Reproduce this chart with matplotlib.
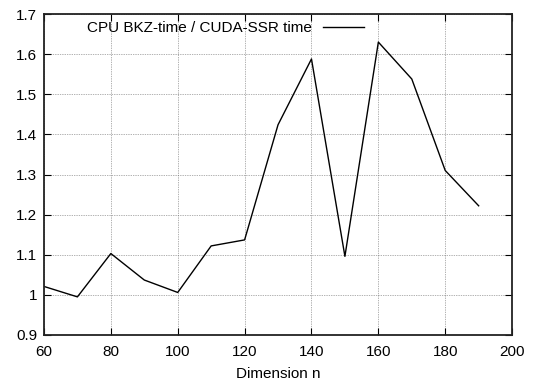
import matplotlib
matplotlib.use("Agg")
import matplotlib.pyplot as plt

plt.rcParams['font.family'] = ['Liberation Sans', 'DejaVu Sans']

dims = [60, 70, 80, 90, 100, 110, 120, 130, 140, 150, 160, 170, 180, 190]
ratio = [1.021, 0.995, 1.103, 1.037, 1.006, 1.122, 1.137, 1.424, 1.588,
         1.096, 1.630, 1.538, 1.310, 1.222]
xticks = [60, 80, 100, 120, 140, 160, 180, 200]
yticks = [0.9, 1.0, 1.1, 1.2, 1.3, 1.4, 1.5, 1.6, 1.7]

fig = plt.figure(figsize=(5.35, 3.85), dpi=100)
ax = fig.add_axes([0.0822, 0.1299, 0.875, 0.8337])

ax.plot(dims, ratio, color='black', lw=1.0, label='CPU BKZ-time / CUDA-SSR time')

ax.set_xlim(60, 200)
ax.set_ylim(0.9, 1.7)
ax.set_xticks(xticks)
ax.set_yticks(yticks)
ax.yaxis.set_major_formatter(plt.FuncFormatter(lambda v, p: '%g' % round(v, 2)))
ax.tick_params(direction='in', top=True, right=True, labelsize=11, length=5, width=0.8)
ax.tick_params(axis='x', pad=7)
ax.tick_params(axis='y', pad=5)
ax.grid(True, color='#666666', linestyle=(0, (1, 1.5)), lw=0.5)
for s in ax.spines.values():
    s.set_linewidth(1.3)
    s.set_color('#222222')

ax.set_xlabel('Dimension n', fontsize=11, labelpad=6)

ax.legend(loc='center right', bbox_to_anchor=(0.684, 0.956), frameon=False,
          markerfirst=False, fontsize=11, borderpad=0, borderaxespad=0,
          handlelength=2.7, handletextpad=0.7)

fig.savefig('out.png', dpi=100)
